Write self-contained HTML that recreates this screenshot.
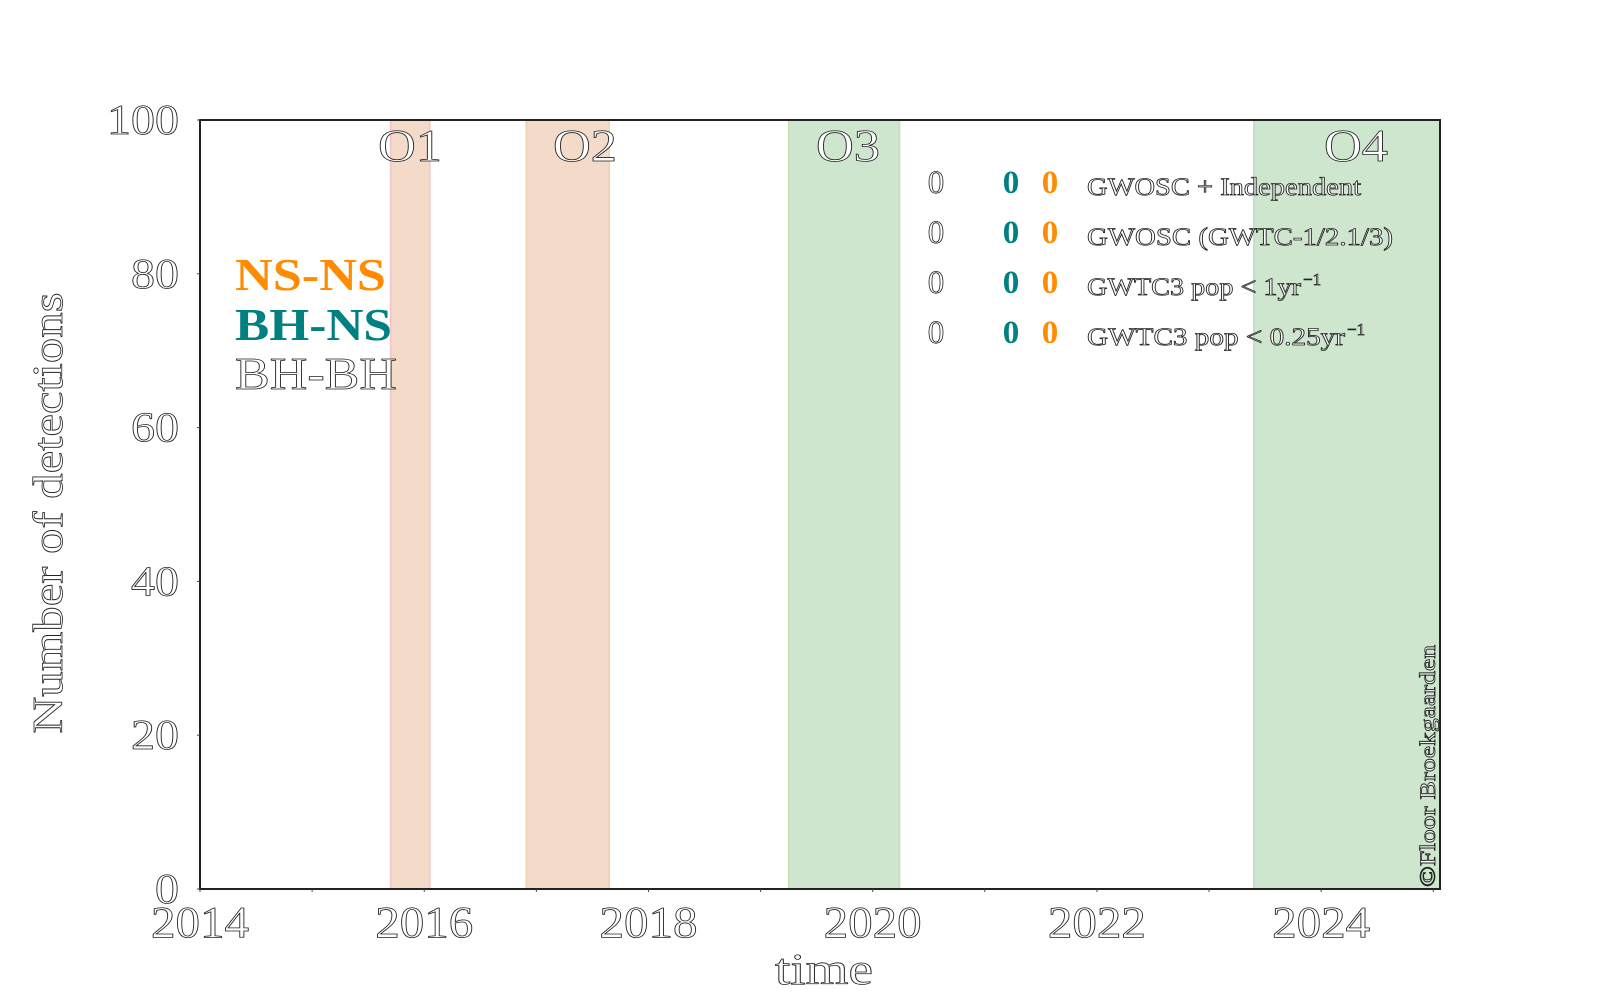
<!DOCTYPE html>
<html><head><meta charset="utf-8"><style>
html,body{margin:0;padding:0;background:#fff;}
svg{display:block;}
.o{fill:#fff;stroke:#222;stroke-width:0.8;font-family:"Liberation Serif",serif;}
</style></head><body>
<svg id="chart" width="1600" height="1000" viewBox="0 0 1600 1000">
<g id="bands"></g>
<g id="axes"></g>
<g id="labels"></g>
</svg>
<script>
const xTicks = [2014, 2016, 2018, 2020, 2022, 2024];
const yTicks = [0, 20, 40, 60, 80, 100];
const runNames = ["O1", "O2", "O3", "O4"];
const runStarts = [2015.70, 2016.91, 2019.25, 2023.40];
const runEnds = [2016.05, 2017.65, 2020.24, 2025.2];
const runFills = ["#f3dac9", "#f3dac9", "#cde6cd", "#cde6cd"];
const runEdges = ["#f4c3c8", "#ecd4a8", "#c8dfb0", "#b8dcc8"];
const rowLabels = ["GWOSC + Independent", "GWOSC (GWTC-1/2.1/3)", "GWTC3 pop < 1yr", "GWTC3 pop < 0.25yr"];
const rowSup = ["", "", "\u22121", "\u22121"];
const bbhCounts = [0, 0, 0, 0];
const bhnsCounts = [0, 0, 0, 0];
const nsnsCounts = [0, 0, 0, 0];

const X0 = 200, X1 = 1440, Y0 = 889, Y1 = 120;
const xMin = 2014, xMax = 2025.06, yMin = 0, yMax = 100;
const xs = v => X0 + (v - xMin) / (xMax - xMin) * (X1 - X0);
const ys = v => Y0 - (v - yMin) / (yMax - yMin) * (Y0 - Y1);
const NS = "http://www.w3.org/2000/svg";
function mk(tag, attrs, parent, text) {
  const e = document.createElementNS(NS, tag);
  for (const k in attrs) e.setAttribute(k, attrs[k]);
  if (text !== undefined) e.textContent = text;
  parent.appendChild(e);
  return e;
}
const bands = document.getElementById('bands');
const axes = document.getElementById('axes');
const labels = document.getElementById('labels');

const defs = mk('defs', {}, bands);
const cp = mk('clipPath', {id: 'plotclip'}, defs);
mk('rect', {x: X0, y: Y1, width: X1 - X0, height: Y0 - Y1}, cp);
bands.setAttribute('clip-path', 'url(#plotclip)');

const labelX = [410, 585, 848, 1356];
runNames.forEach((n, i) => {
  const x = xs(runStarts[i]), w = xs(runEnds[i]) - x;
  const r = mk('rect', {x: x, y: Y1, width: w, height: Y0 - Y1, fill: runFills[i], stroke: runEdges[i], 'stroke-width': 1.5}, bands);
  
  
  const t = mk('text', {x: labelX[i], y: 161, 'text-anchor': 'middle', 'font-size': 46, class: 'o', textLength: 64, lengthAdjust: 'spacingAndGlyphs'}, labels, n);
  
  
});

const fr = mk('rect', {x: X0, y: Y1, width: X1 - X0, height: Y0 - Y1, fill: 'none', stroke: '#222', 'stroke-width': 2}, axes);



for (let yr = 2014; yr <= 2025; yr++) {
  mk('line', {x1: xs(yr), x2: xs(yr), y1: Y0, y2: Y0 + 3, stroke: '#444', 'stroke-width': 1}, axes);
}
xTicks.forEach(v => {
  const t = mk('text', {x: xs(v), y: 937, 'text-anchor': 'middle', 'font-size': 44, class: 'o', textLength: 98, lengthAdjust: 'spacingAndGlyphs'}, axes, String(v));
  
  
});
yTicks.forEach(v => {
  mk('line', {x1: X0 - 3, x2: X0, y1: ys(v), y2: ys(v), stroke: '#444', 'stroke-width': 1}, axes);
  const s = String(v);
  const t = mk('text', {x: 179, y: ys(v) + 14, 'text-anchor': 'end', 'font-size': 42, class: 'o', textLength: s.length * 24, lengthAdjust: 'spacingAndGlyphs'}, axes, s);
  
  
});
const xt = mk('text', {x: 824, y: 984, 'text-anchor': 'middle', 'font-size': 44, class: 'o', textLength: 98, lengthAdjust: 'spacingAndGlyphs'}, axes, 'time');


const yt = mk('text', {x: 0, y: 0, 'text-anchor': 'middle', 'font-size': 42, class: 'o', transform: 'translate(62,513) rotate(-90)', textLength: 441, lengthAdjust: 'spacingAndGlyphs'}, axes, 'Number of detections');



const leg = [["NS-NS", "#ff8c00", 290, 'bold', 151], ["BH-NS", "#008080", 340, 'bold', 157], ["BH-BH", null, 389, 'normal', 162]];
leg.forEach(l => {
  const attrs = {x: 235, y: l[2], 'font-size': 46, 'font-weight': l[3], textLength: l[4], lengthAdjust: 'spacingAndGlyphs'};
  if (l[1]) { attrs.fill = l[1]; attrs['font-family'] = '"Liberation Serif", serif'; } else { attrs.class = 'o'; }
  const t = mk('text', attrs, labels, l[0]);
  
  
});

const rowW = [274, 306, 236, 280];
rowLabels.forEach((lab, i) => {
  const by = 193 + i * 50;
  const a = mk('text', {x: 936, y: by, 'text-anchor': 'middle', 'font-size': 33, class: 'o'}, labels, String(bbhCounts[i]));
  
  
  const b = mk('text', {x: 1011, y: by, 'text-anchor': 'middle', 'font-size': 33, 'font-weight': 'bold', fill: '#008080', 'font-family': '"Liberation Serif", serif'}, labels, String(bhnsCounts[i]));
  
  
  const c = mk('text', {x: 1050, y: by, 'text-anchor': 'middle', 'font-size': 33, 'font-weight': 'bold', fill: '#ff8c00', 'font-family': '"Liberation Serif", serif'}, labels, String(nsnsCounts[i]));
  
  
  const g = mk('g', {}, labels);
  
  
  const mainW = rowSup[i] ? rowW[i] - 22 : rowW[i];
  mk('text', {x: 1087, y: by + 2, 'font-size': 25, class: 'o', textLength: mainW, lengthAdjust: 'spacingAndGlyphs'}, g, lab);
  if (rowSup[i]) mk('text', {x: 1087 + mainW + 2, y: by - 8, 'font-size': 17, class: 'o'}, g, rowSup[i]);
});

const cr = mk('text', {x: 0, y: 0, 'text-anchor': 'start', 'font-size': 22, class: 'o', transform: 'translate(1435,887) rotate(-90)', textLength: 242, lengthAdjust: 'spacingAndGlyphs'}, labels, '\u00A9Floor Broekgaarden');


</script>
</body></html>
